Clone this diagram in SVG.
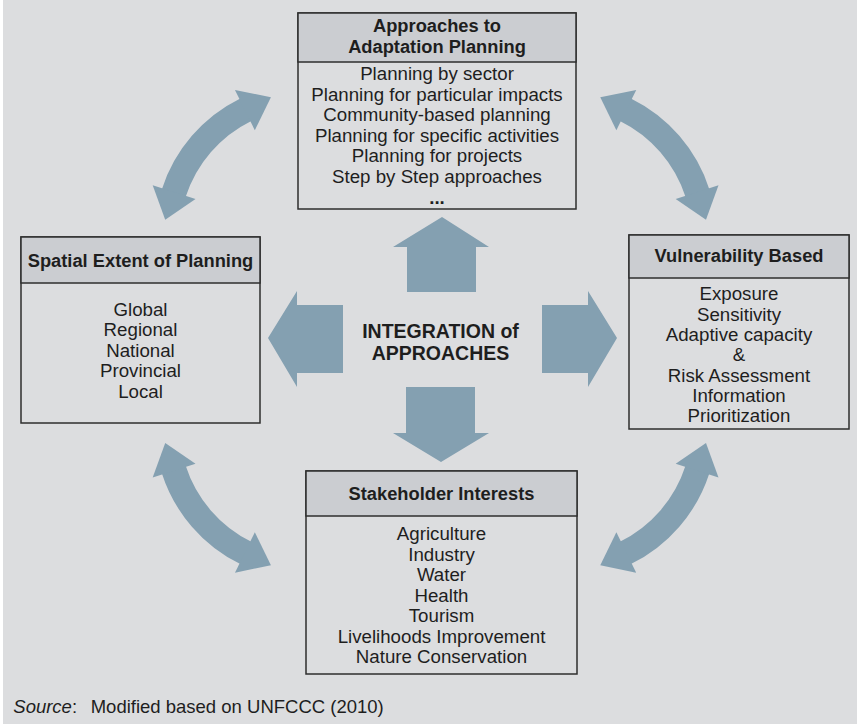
<svg xmlns="http://www.w3.org/2000/svg" width="857" height="724" viewBox="0 0 857 724">
  <style>
    text { font-family: "Liberation Sans", Arial, Helvetica, sans-serif; fill: #1e1e1e; }
    .hd { font-size: 18.3px; font-weight: bold; text-anchor: middle; }
    .bd { font-size: 18.7px; text-anchor: middle; }
    .ctr { font-size: 19.5px; font-weight: bold; text-anchor: middle; }
    .src { font-size: 18.5px; }
    .box { fill: #dcdddf; stroke: #2e2e2e; stroke-width: 1.5; }
    .head { fill: #cbcdd1; stroke: #2e2e2e; stroke-width: 1.5; }
    .big { fill: #84a0b1; }
    .arc { fill: none; stroke: #84a0b1; stroke-width: 25; }
  </style>
  <defs>
    <marker id="tip" viewBox="0 -23 30 46" refX="1" refY="0" markerWidth="30" markerHeight="46"
            markerUnits="userSpaceOnUse" orient="auto-start-reverse" overflow="visible">
      <path d="M0,-22.5 L29,0 L0,22.5 Z" fill="#84a0b1"/>
    </marker>
  </defs>

  <!-- panel -->
  <rect x="0" y="0" width="857" height="724" fill="#ffffff"/>
  <rect x="3" y="0" width="854" height="724" fill="#dcdddf"/>

  <!-- connectors: four double-headed curved arrows and four block arrows -->
  <g id="connectors">
    <path class="arc" d="M173.8,193 A141,141 0 0 1 245.8,109.7" marker-start="url(#tip)" marker-end="url(#tip)"/>
    <path class="arc" d="M625.4,109.7 A141,141 0 0 1 697.4,193" marker-start="url(#tip)" marker-end="url(#tip)"/>
    <path class="arc" d="M173.8,469.6 A141,141 0 0 0 245.8,552.9" marker-start="url(#tip)" marker-end="url(#tip)"/>
    <path class="arc" d="M697.4,469.6 A141,141 0 0 1 625.4,552.9" marker-start="url(#tip)" marker-end="url(#tip)"/>

    <polygon class="big" points="442,217 489,247 476,247 476,292 407,292 407,247 393,247"/>
    <polygon class="big" points="268,338 297,291 297,305 343,305 343,373 297,373 297,387"/>
    <polygon class="big" points="542,305 588,305 588,291 617,338 588,387 588,373 542,373"/>
    <polygon class="big" points="406,387 475,387 475,433 489,433 441,462 393,433 406,433"/>
  </g>

  <!-- centre label -->
  <g id="integration">
    <text class="ctr" x="440.5" y="337.5">INTEGRATION of</text>
    <text class="ctr" x="440.5" y="360">APPROACHES</text>
  </g>

  <!-- top: approaches -->
  <g id="approaches">
    <rect class="box" x="298" y="13" width="278" height="196"/>
    <rect class="head" x="298" y="13" width="278" height="49"/>
    <text class="hd" x="437" y="31.7">Approaches to</text>
    <text class="hd" x="437" y="52.5">Adaptation Planning</text>
    <text class="bd" x="437" y="80">Planning by sector</text>
    <text class="bd" x="437" y="100.5">Planning for particular impacts</text>
    <text class="bd" x="437" y="121">Community-based planning</text>
    <text class="bd" x="437" y="141.5">Planning for specific activities</text>
    <text class="bd" x="437" y="162">Planning for projects</text>
    <text class="bd" x="437" y="182.5">Step by Step approaches</text>
    <text class="bd" x="437" y="203.5" font-weight="bold">...</text>
  </g>

  <!-- left: spatial extent -->
  <g id="spatial">
    <rect class="box" x="21" y="237" width="239" height="186"/>
    <rect class="head" x="21" y="237" width="239" height="46"/>
    <text class="hd" x="140.5" y="266.5">Spatial Extent of Planning</text>
    <text class="bd" x="140.5" y="315.5">Global</text>
    <text class="bd" x="140.5" y="336">Regional</text>
    <text class="bd" x="140.5" y="356.5">National</text>
    <text class="bd" x="140.5" y="377">Provincial</text>
    <text class="bd" x="140.5" y="397.5">Local</text>
  </g>

  <!-- right: vulnerability -->
  <g id="vulnerability">
    <rect class="box" x="629" y="235" width="220" height="194"/>
    <rect class="head" x="629" y="235" width="220" height="43"/>
    <text class="hd" x="739" y="261.7">Vulnerability Based</text>
    <text class="bd" x="739" y="300">Exposure</text>
    <text class="bd" x="739" y="320.5">Sensitivity</text>
    <text class="bd" x="739" y="341">Adaptive capacity</text>
    <text class="bd" x="739" y="361">&amp;</text>
    <text class="bd" x="739" y="381.5">Risk Assessment</text>
    <text class="bd" x="739" y="402">Information</text>
    <text class="bd" x="739" y="422">Prioritization</text>
  </g>

  <!-- bottom: stakeholders -->
  <g id="stakeholders">
    <rect class="box" x="306" y="471" width="271" height="203"/>
    <rect class="head" x="306" y="471" width="271" height="45"/>
    <text class="hd" x="441.5" y="500">Stakeholder Interests</text>
    <text class="bd" x="441.5" y="540">Agriculture</text>
    <text class="bd" x="441.5" y="560.5">Industry</text>
    <text class="bd" x="441.5" y="581">Water</text>
    <text class="bd" x="441.5" y="601.5">Health</text>
    <text class="bd" x="441.5" y="622">Tourism</text>
    <text class="bd" x="441.5" y="642.5">Livelihoods Improvement</text>
    <text class="bd" x="441.5" y="663">Nature Conservation</text>
  </g>

  <!-- source note -->
  <text class="src" x="13.3" y="713.3"><tspan font-style="italic">Source</tspan>:<tspan x="90.7">Modified based on UNFCCC (2010)</tspan></text>
</svg>
